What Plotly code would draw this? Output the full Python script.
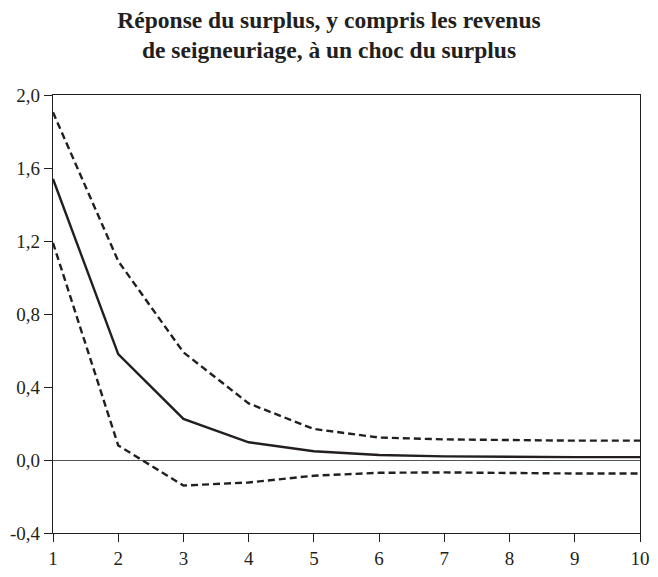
import plotly.graph_objects as go

periods = [1, 2, 3, 4, 5, 6, 7, 8, 9, 10]
response = [1.54, 0.58, 0.225, 0.097, 0.048, 0.027, 0.02, 0.017, 0.016, 0.016]
upper = [1.905, 1.09, 0.59, 0.31, 0.17, 0.123, 0.113, 0.108, 0.106, 0.106]
lower = [1.19, 0.08, -0.14, -0.123, -0.086, -0.07, -0.068, -0.072, -0.074, -0.074]

ytick_vals = [-0.4, 0.0, 0.4, 0.8, 1.2, 1.6, 2.0]
ytick_text = ["-0,4", "0,0", "0,4", "0,8", "1,2", "1,6", "2,0"]
xtick_vals = periods
xtick_text = [str(p) for p in periods]

title_text = "<b>Réponse du surplus, y compris les revenus<br>de seigneuriage, à un choc du surplus</b>"

ink = "#231f20"
serif = "Liberation Serif, Times New Roman, serif"
fig = go.Figure()
fig.add_trace(go.Scatter(x=periods, y=upper, mode="lines",
                         line=dict(color=ink, width=2.4, dash="7px,4px"), showlegend=False))
fig.add_trace(go.Scatter(x=periods, y=lower, mode="lines",
                         line=dict(color=ink, width=2.4, dash="7px,4px"), showlegend=False))
fig.add_trace(go.Scatter(x=periods, y=response, mode="lines",
                         line=dict(color=ink, width=2.4), showlegend=False))

fig.update_layout(
    width=658, height=577,
    margin=dict(l=53, r=8, t=95, b=35),
    paper_bgcolor="white", plot_bgcolor="white",
    font=dict(family=serif, color=ink, size=19),
    title=dict(text=title_text, x=0.5, xref="container", xanchor="center", y=0.952, yanchor="top",
               font=dict(family=serif, size=23.5, color=ink)),
    showlegend=False,
)
fig.update_xaxes(range=[1, 10], tickvals=xtick_vals, ticktext=xtick_text,
                 showgrid=False, zeroline=False, showline=True, linecolor=ink, linewidth=1.2,
                 mirror=True, ticks="outside", ticklen=8, tickcolor=ink, tickwidth=1.2,
                 ticklabeloverflow="allow")
fig.update_yaxes(range=[-0.4, 2.0], tickvals=ytick_vals, ticktext=ytick_text,
                 showgrid=False, zeroline=True, zerolinecolor="#555", zerolinewidth=1.2,
                 showline=True, linecolor=ink, linewidth=1.2,
                 mirror=True, ticks="outside", ticklen=8, tickcolor=ink, tickwidth=1.2)

# remove the default page margin so the figure sits at the window's top-left corner
fig.write_html("out.html", config={"displayModeBar": False},
               post_script="document.body.style.margin='0';document.body.style.overflow='hidden';")
